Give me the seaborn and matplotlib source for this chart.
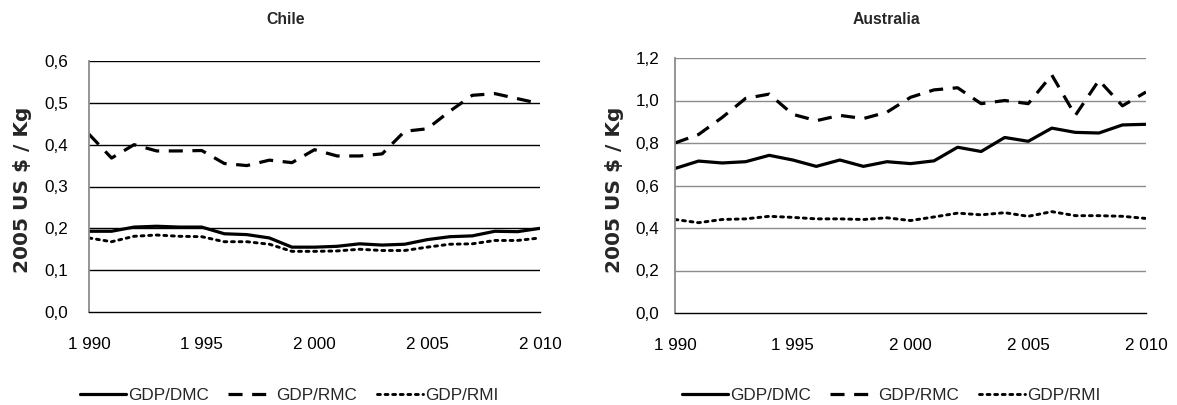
import matplotlib
matplotlib.use("Agg")
import matplotlib.pyplot as plt
import seaborn as sns
import pandas as pd
import numpy as np

years = list(range(1990, 2011))

chile_dmc = [0.193, 0.193, 0.203, 0.205, 0.203, 0.203, 0.187, 0.185, 0.177, 0.155, 0.155,
             0.157, 0.163, 0.160, 0.162, 0.173, 0.180, 0.182, 0.193, 0.192, 0.200]
chile_rmc = [0.425, 0.368, 0.400, 0.385, 0.385, 0.386, 0.355, 0.350, 0.363, 0.357, 0.388,
             0.373, 0.373, 0.378, 0.432, 0.438, 0.480, 0.518, 0.522, 0.510, 0.498]
chile_rmi = [0.177, 0.168, 0.181, 0.184, 0.181, 0.180, 0.168, 0.168, 0.162, 0.145, 0.145,
             0.146, 0.150, 0.147, 0.147, 0.155, 0.162, 0.163, 0.171, 0.171, 0.177]

aus_dmc = [0.680, 0.715, 0.706, 0.712, 0.742, 0.720, 0.690, 0.720, 0.690, 0.712, 0.703,
           0.716, 0.780, 0.760, 0.826, 0.808, 0.870, 0.850, 0.847, 0.885, 0.888]
aus_rmc = [0.800, 0.840, 0.920, 1.010, 1.030, 0.935, 0.905, 0.930, 0.915, 0.945, 1.015,
           1.050, 1.060, 0.985, 1.000, 0.985, 1.120, 0.930, 1.095, 0.975, 1.040]
aus_rmi = [0.440, 0.425, 0.440, 0.443, 0.455, 0.450, 0.443, 0.443, 0.440, 0.448, 0.435,
           0.452, 0.470, 0.462, 0.472, 0.455, 0.477, 0.458, 0.458, 0.455, 0.445]

series_names = ["GDP/DMC", "GDP/RMC", "GDP/RMI"]
x_ticks = [1990, 1995, 2000, 2005, 2010]
x_tick_labels = ["1 990", "1 995", "2 000", "2 005", "2 010"]
chile_yticks = [0.0, 0.1, 0.2, 0.3, 0.4, 0.5, 0.6]
chile_ylabels = ["0,0", "0,1", "0,2", "0,3", "0,4", "0,5", "0,6"]
aus_yticks = [0.0, 0.2, 0.4, 0.6, 0.8, 1.0, 1.2]
aus_ylabels = ["0,0", "0,2", "0,4", "0,6", "0,8", "1,0", "1,2"]
ylabel_text = "2005 US $ / Kg"

sns.set_style("white")
FAM = ["Liberation Sans", "DejaVu Sans"]
plt.rcParams["font.family"] = FAM

styles = {
    "GDP/DMC": dict(linestyle="-", lw=2.3),
    "GDP/RMC": dict(linestyle=(0, (4.4, 3.0)), lw=2.3),
    "GDP/RMI": dict(linestyle=(0, (1.0, 1.6)), lw=2.1),
}

fig = plt.figure(figsize=(11.77, 4.05), dpi=100)

panels = [
    dict(title="Chile", data=[chile_dmc, chile_rmc, chile_rmi],
         rect=[89/1177, 1-312/405, 451/1177, 251/405],
         yticks=chile_yticks, ylabels=chile_ylabels, ylim=(0, 0.6),
         gridcolor="#000000", spinecolor="#8c8c8c", tickcolor="#000000",
         title_x=286/1177, ylabel_x=22.5/1177, legend_x=289/1177, ypad=10),
    dict(title="Australia", data=[aus_dmc, aus_rmc, aus_rmi],
         rect=[675/1177, 1-313/405, 471/1177, 255/405],
         yticks=aus_yticks, ylabels=aus_ylabels, ylim=(0, 1.2),
         gridcolor="#8c8c8c", spinecolor="#8c8c8c", tickcolor="#8c8c8c",
         title_x=886/1177, ylabel_x=614/1177, legend_x=891/1177, ypad=6.5),
]

for p in panels:
    ax = fig.add_axes(p["rect"])
    rows = []
    for name, vals in zip(series_names, p["data"]):
        for yr, v in zip(years, vals):
            rows.append((yr, v, name))
    df = pd.DataFrame(rows, columns=["year", "value", "series"])
    for name in series_names:
        sub = df[df["series"] == name]
        st = styles[name]
        sns.lineplot(data=sub, x="year", y="value", ax=ax, color="black",
                     linestyle=st["linestyle"], linewidth=st["lw"], label=name,
                     dash_capstyle="round" if name == "GDP/RMI" else "butt")
    ax.set_xlim(1990, 2010)
    ax.set_ylim(*p["ylim"])
    ax.set_yticks(p["yticks"])
    ax.set_yticklabels(p["ylabels"])
    ax.set_xticks(x_ticks)
    ax.set_xticklabels(x_tick_labels)
    ax.set_xlabel("")
    ax.set_ylabel("")
    for yv in p["yticks"][1:]:
        ax.axhline(yv, color=p["gridcolor"], lw=1.0, zorder=0)
    for s in ["top", "right"]:
        ax.spines[s].set_visible(False)
    ax.spines["left"].set_color(p["spinecolor"])
    ax.spines["left"].set_linewidth(1.3)
    ax.spines["bottom"].set_color("#000000")
    ax.spines["bottom"].set_linewidth(1.0)
    ax.tick_params(axis="both", direction="out", length=5, width=1,
                   labelsize=12.3, colors="black")
    ax.tick_params(axis="y", color=p["tickcolor"], pad=p["ypad"])
    ax.tick_params(axis="x", color="black", length=5, pad=13)
    fig.text(p["title_x"], 1-19/405, p["title"], ha="center", va="center",
             fontsize=11.3, fontweight="bold", family=FAM)
    fig.text(p["ylabel_x"], 1-190/405, ylabel_text, rotation=90, ha="center",
             va="center", fontsize=14.5, fontweight="bold", family=["DejaVu Sans"])
    ax.legend(loc="center", bbox_to_anchor=(p["legend_x"], 1-395/405),
              bbox_transform=fig.transFigure, ncol=3, frameon=False,
              fontsize=12.3, handlelength=2.7, handletextpad=0.1,
              columnspacing=1.15)

fig.savefig("out.png", dpi=100)
